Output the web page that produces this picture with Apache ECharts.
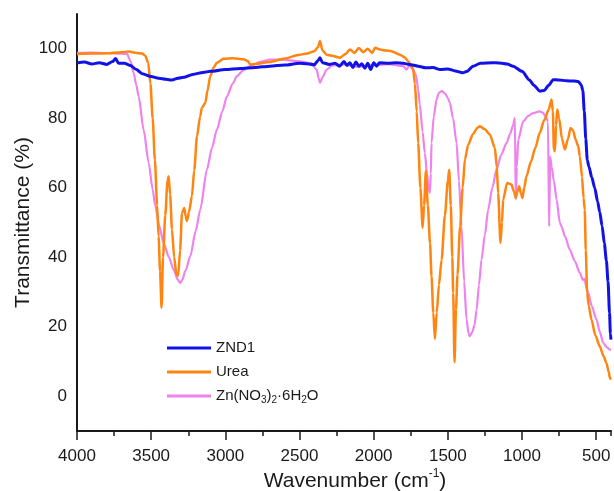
<!DOCTYPE html>
<html>
<head>
<meta charset="utf-8">
<script src="https://cdn.jsdelivr.net/npm/echarts@6/dist/echarts.min.js"></script>
<style>html,body{margin:0;padding:0;background:#fff;}#chart{width:614px;height:491px;}</style>
</head>
<body>
<div id="chart"></div>
<script>
// Axis settings (wavenumber axis runs from 4000 down to 400)
const xTickValues = [4000, 3500, 3000, 2500, 2000, 1500, 1000, 500];
const yTickValues = [0, 20, 40, 60, 80, 100];
const seriesNames = ['ZND1', 'Urea', 'Zn(NO3)2·6H2O'];

// ZND1 [wavenumber, %T]
const znd1 = [
  [4000,95.9],[3950,96.2],[3900,95.6],[3850,96.0],[3800,95.5],[3760,96.3],[3740,97.2],[3720,95.8],
  [3680,95.8],[3640,95.2],[3600,94.0],[3560,92.8],[3500,92.0],[3450,91.5],[3400,91.2],[3360,91.0],
  [3320,91.5],[3280,91.8],[3220,92.6],[3150,93.2],[3100,93.5],[3000,94.0],[2900,94.3],[2800,94.6],
  [2700,95.0],[2600,95.3],[2500,95.8],[2450,95.7],[2400,95.4],[2375,96.6],[2362,97.4],[2345,96.0],
  [2300,95.5],[2260,95.8],[2230,95.0],[2200,96.3],[2180,95.2],[2160,96.0],[2140,94.6],[2120,96.2],
  [2100,95.0],[2080,95.7],[2060,94.4],[2040,95.8],[2020,94.0],[2000,96.0],[1980,95.0],[1960,96.0],
  [1900,95.8],[1850,96.0],[1800,95.8],[1760,95.5],[1700,95.0],[1650,94.5],[1600,94.6],[1550,94.0],
  [1500,94.2],[1450,93.6],[1400,93.1],[1370,93.5],[1330,95.0],[1280,95.8],[1200,96.0],[1150,95.9],
  [1100,95.6],[1060,95.0],[1000,93.5],[950,91.0],[920,89.5],[880,87.8],[850,88.0],[820,89.5],
  [790,91.1],[750,91.0],[700,90.8],[650,90.7],[620,90.6],[600,89.5],[590,88.0],[580,82],[570,74],
  [560,68],[548,66],[530,63],[510,60],[490,56],[476,53],[460,49],[445,44],[431,39],[420,33],
  [410,24],[404,18],[400,16.3]
];

// Urea [wavenumber, %T]
const urea = [
  [4000,98.5],[3900,98.6],[3800,98.7],[3700,99.0],[3650,99.2],[3600,98.8],[3560,98.6],[3540,98.0],
  [3520,96.0],[3505,90],[3490,80],[3475,68],[3460,55],[3450,46],[3440,36],[3430,25.5],[3420,40],
  [3405,52],[3390,62],[3382,63.3],[3372,58],[3360,48],[3345,40],[3330,35],[3318,34.7],[3305,42],
  [3292,52.8],[3277,54.2],[3268,52],[3259,50.4],[3245,53],[3225,57.6],[3210,65],[3191,74.8],
  [3170,80.5],[3158,83],[3135,84.4],[3120,88],[3102,92.1],[3080,94.5],[3057,96],[3012,97.1],
  [2950,97.3],[2877,97],[2850,96.5],[2832,95.5],[2800,95.6],[2700,96.2],[2600,97.2],[2500,98.3],
  [2450,98.6],[2400,99.3],[2375,100.5],[2362,102.2],[2345,99.5],[2317,98.3],[2280,98.0],[2228,97.4],
  [2190,98.5],[2160,99.8],[2130,98.8],[2100,100.2],[2070,99.0],[2040,100.0],[2010,98.8],[1990,100.3],
  [1958,99.8],[1920,99.5],[1880,99.3],[1823,98.3],[1790,97.5],[1767,96.4],[1745,95.0],[1734,94],
  [1722,90],[1710,82],[1700,72.9],[1685,60],[1670,48.5],[1660,55],[1648,64.8],[1635,55],[1620,44],
  [1610,34.5],[1598,24],[1587,16.5],[1575,24],[1560,32],[1542,39.3],[1520,52],[1500,62],[1491,65.2],
  [1480,55],[1470,40],[1464,29.8],[1455,9.8],[1445,25],[1435,35],[1417,48.9],[1400,60],[1385,68.1],
  [1363,72.4],[1330,75.5],[1300,77.3],[1284,77.7],[1250,76.8],[1217,75.3],[1183,71.5],[1170,66],
  [1161,58.5],[1145,44.1],[1135,50],[1127,56.6],[1100,61.4],[1071,60.9],[1055,59],[1042,57.1],
  [1030,59],[1019,60.4],[1008,58.5],[997,57],[985,60],[970,63.3],[940,67.5],[910,71.5],[880,75.8],
  [850,79.5],[820,82.5],[801,85.4],[792,82],[785,71],[778,70.5],[770,78],[763,82.5],[750,80],
  [730,74],[711,71],[690,74],[673,77.2],[655,76.5],[640,74],[621,72],[610,69],[595,63],[585,57],
  [577,53.7],[570,42],[561,29.8],[550,26],[532,22.1],[505,17.5],[476,14.4],[450,11.5],[431,9.6],
  [415,7],[408,5.3],[400,4.8]
];

// Zn(NO3)2·6H2O [wavenumber, %T]
const znNitrate = [
  [4000,98.8],[3900,98.9],[3800,98.7],[3700,98.6],[3663,98.5],[3640,96.5],[3618,93],[3600,89.5],
  [3584,86.3],[3551,76.7],[3517,67.2],[3490,59.5],[3472,54.7],[3445,49],[3416,44.1],[3380,40],
  [3349,36.5],[3320,33.5],[3304,32.6],[3290,33.5],[3270,36],[3236,40.3],[3200,47.5],[3169,53.7],
  [3124,65.2],[3090,71.5],[3057,76.7],[3020,82],[2989,86.3],[2950,90],[2922,92.1],[2880,93.8],
  [2832,95],[2760,96.3],[2697,96.9],[2600,96.8],[2500,96.4],[2420,95.8],[2385,94],[2370,91.5],
  [2362,90.2],[2345,91.8],[2317,94],[2280,95.2],[2200,95.5],[2100,94.8],[2000,95.3],[1900,95.6],
  [1800,95.0],[1778,94],[1760,95.2],[1740,94.5],[1715,92.5],[1700,88.3],[1689,84],[1670,76],
  [1655,70],[1640,64],[1630,60],[1621,58.5],[1615,64],[1610,72.9],[1595,80.5],[1576,85.4],
  [1560,87.3],[1542,87.8],[1520,87.2],[1500,85.8],[1486,84.4],[1465,80],[1441,72.9],[1425,62],
  [1408,48.9],[1390,33],[1374,22.1],[1360,18],[1352,17.3],[1335,18.5],[1320,20.5],[1306,24.9],
  [1290,32],[1273,39.3],[1250,46.5],[1228,53.7],[1200,60],[1172,65.2],[1140,69.5],[1104,72.9],
  [1080,75.5],[1060,78],[1048,80.1],[1042,56.6],[1035,66],[1025,73.9],[992,79.1],[960,80.6],
  [925,81.5],[880,82],[860,81.6],[835,80.1],[825,79],[817,48.9],[810,69],[800,66],[785,62],
  [767,56.6],[745,50],[734,48.9],[710,46],[678,42.2],[645,39],[610,35.5],[590,33.5],[578,33.8],
  [565,31],[554,29.8],[530,26],[498,22.1],[475,18.5],[453,15.4],[430,14.2],[408,13.4],[400,13.4]
];

const FONT = "'Liberation Sans', Arial, sans-serif";
const chart = echarts.init(document.getElementById('chart'), null, {renderer: 'canvas'});

// The axis is laid out on negated wavenumbers so that ticks start at -4000 (a multiple of the interval)
const toAxis = pts => pts.map(p => [-p[0], p[1]]);

function legendFmt(name) {
  if (name === seriesNames[2]) {
    return 'Zn(NO{sub|3}){sub|2}·6H{sub|2}O';
  }
  return name;
}

function xLabelFmt(v) {
  const w = Math.abs(v);
  return xTickValues.indexOf(w) >= 0 ? String(w) : '';
}

function mkSeries(name, data, color, width, z) {
  return {
    name: name, type: 'line', data: toAxis(data), symbol: 'none', showSymbol: false,
    smooth: 0.25, smoothMonotone: 'x', z: z,
    lineStyle: {color: color, width: width}, itemStyle: {color: color},
    emphasis: {disabled: true}
  };
}

chart.setOption({
  animation: false,
  backgroundColor: '#ffffff',
  grid: {left: 77, right: 3, top: 14, bottom: 60, containLabel: false, outerBoundsMode: 'none'},
  legend: {
    orient: 'vertical', left: 167, top: 339, padding: 0,
    icon: 'rect', itemWidth: 44, itemHeight: 3, itemGap: 6,
    data: seriesNames,
    formatter: legendFmt,
    textStyle: {
      fontFamily: FONT, fontSize: 15, color: '#1a1a1a', lineHeight: 18,
      rich: {sub: {fontFamily: FONT, fontSize: 10, lineHeight: 10, verticalAlign: 'bottom', color: '#1a1a1a'}}
    }
  },
  xAxis: [{
    type: 'value', min: -4000, max: -400, interval: 500, position: 'bottom',
    axisLine: {onZero: false, lineStyle: {color: '#1a1a1a', width: 2}},
    axisTick: {show: true, length: 9, lineStyle: {color: '#1a1a1a', width: 1.5}},
    minorTick: {show: false},
    axisLabel: {formatter: xLabelFmt, showMaxLabel: false,
      fontFamily: FONT, fontSize: 17, color: '#1a1a1a', margin: 17},
    splitLine: {show: false},
    name: '{n|Wavenumber (cm}{sup|-1}{n|)}',
    nameLocation: 'middle', nameGap: 37, nameMoveOverlap: false,
    nameTextStyle: {
      fontFamily: FONT, padding: [0, 0, 0, 22],
      rich: {
        n: {fontFamily: FONT, fontSize: 21, color: '#1a1a1a', lineHeight: 26},
        sup: {fontFamily: FONT, fontSize: 12, color: '#1a1a1a', lineHeight: 16, verticalAlign: 'top'}
      }
    }
  }, {
    type: 'value', min: -4000, max: -400, interval: 250, position: 'bottom',
    axisLine: {show: false, onZero: false},
    axisTick: {show: true, length: 5, lineStyle: {color: '#1a1a1a', width: 1.5}},
    axisLabel: {show: false},
    splitLine: {show: false}
  }],
  yAxis: {
    type: 'value', min: -10, max: 110,
    axisLine: {show: true, onZero: false, lineStyle: {color: '#1a1a1a', width: 2}},
    axisTick: {show: false},
    axisLabel: {customValues: yTickValues, fontFamily: FONT, fontSize: 17, color: '#1a1a1a', margin: 10},
    splitLine: {show: false},
    name: 'Transmittance (%)', nameLocation: 'middle', nameGap: 43, nameMoveOverlap: false,
    nameTextStyle: {fontFamily: FONT, fontSize: 21, color: '#1a1a1a'}
  },
  series: [
    mkSeries(seriesNames[2], znNitrate, '#ee82ee', 2.2, 2),
    mkSeries(seriesNames[1], urea, '#ff8410', 2.5, 3),
    mkSeries(seriesNames[0], znd1, '#1212e6', 3, 4)
  ]
});
</script>
</body>
</html>
